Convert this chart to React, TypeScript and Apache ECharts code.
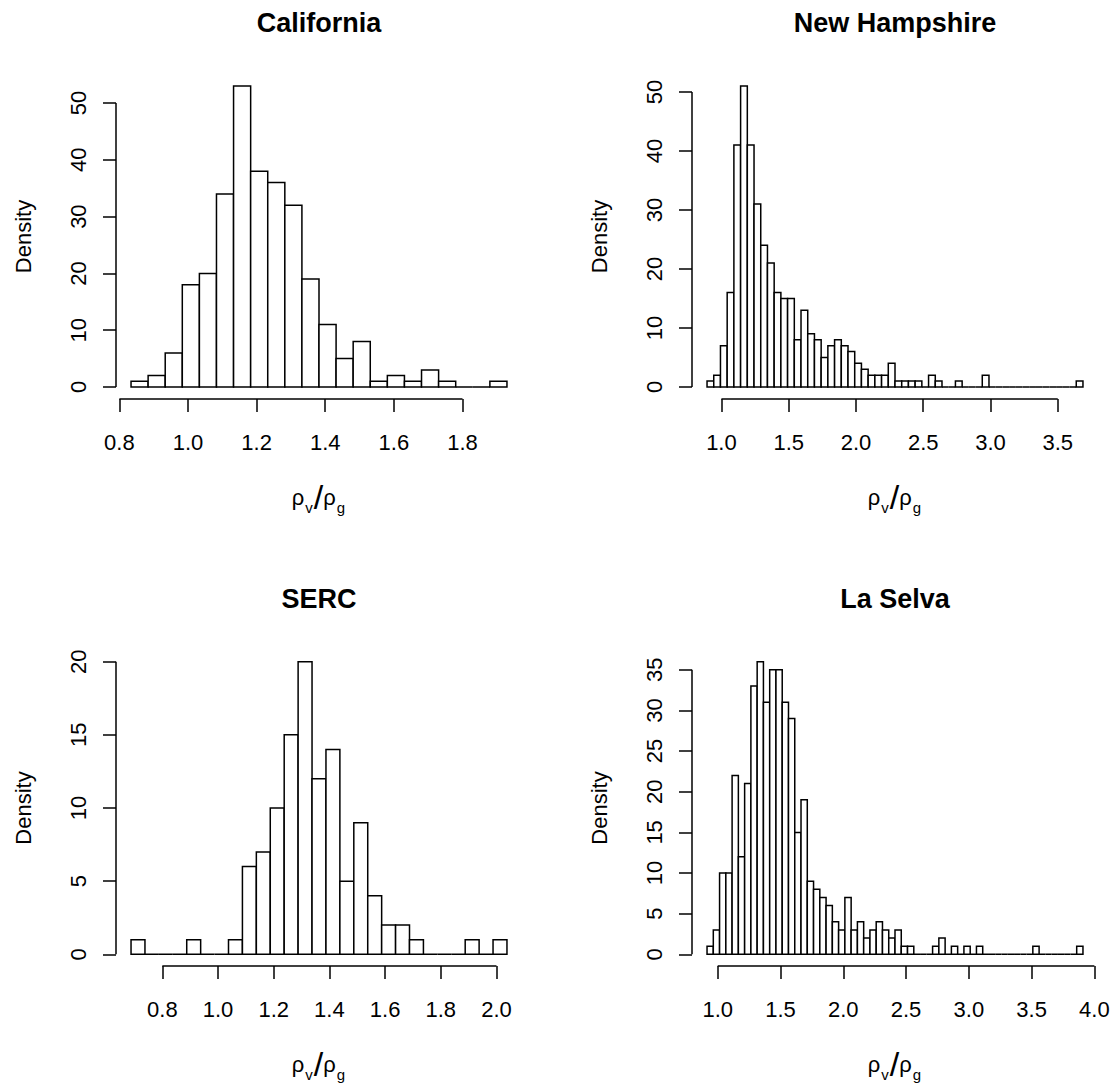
import React, { useEffect, useRef } from "react";
import * as echarts from "echarts";

const FONT = '"Liberation Sans", Arial, Helvetica, sans-serif';

// ---- California ----
const caBreakStart = 0.834;
const caBinWidth = 0.0498;
const caDensity = [1, 2, 6, 18, 20, 34, 53, 38, 36, 32, 19, 11, 5, 8, 1, 2, 1, 3, 1, 0, 0, 1];
const caXTicks = [0.8, 1.0, 1.2, 1.4, 1.6, 1.8];
const caYTicks = [0, 10, 20, 30, 40, 50];

// ---- New Hampshire ----
const nhBreakStart = 0.893;
const nhBinWidth = 0.0499;
const nhDensity = [
  1, 2, 7, 16, 41, 51, 41, 31, 24, 21, 16, 15, 15, 8, 13, 9, 8, 5, 7, 8, 7, 6, 4, 3, 2, 2, 2, 4,
  1, 1, 1, 1, 0, 2, 1, 0, 0, 1, 0, 0, 0, 2, 0, 0, 0, 0, 0, 0, 0, 0, 0, 0, 0, 0, 0, 1,
];
const nhXTicks = [1.0, 1.5, 2.0, 2.5, 3.0, 3.5];
const nhYTicks = [0, 10, 20, 30, 40, 50];

// ---- SERC ----
const seBreakStart = 0.6876;
const seBinWidth = 0.05;
const seDensity = [1, 0, 0, 0, 1, 0, 0, 1, 6, 7, 10, 15, 20, 12, 14, 5, 9, 4, 2, 2, 1, 0, 0, 0, 1, 0, 1];
const seXTicks = [0.8, 1.0, 1.2, 1.4, 1.6, 1.8, 2.0];
const seYTicks = [0, 5, 10, 15, 20];

// ---- La Selva ----
const lsBreakStart = 0.915;
const lsBinWidth = 0.0499;
const lsDensity = [
  1, 3, 10, 10, 22, 12, 21, 33, 36, 31, 35, 35, 31, 29, 15, 19, 9, 8, 7, 6, 4, 3, 7, 3, 4, 2, 3, 4,
  3, 2, 3, 1, 1, 0, 0, 0, 1, 2, 0, 1, 0, 1, 0, 1, 0, 0, 0, 0, 0, 0, 0, 0, 1, 0, 0, 0, 0, 0, 0, 1,
];
const lsXTicks = [1.0, 1.5, 2.0, 2.5, 3.0, 3.5, 4.0];
const lsYTicks = [0, 5, 10, 15, 20, 25, 30, 35];

type Panel = {
  title: string;
  start: number;
  width: number;
  density: number[];
  xTicks: number[];
  yTicks: number[];
};

const panels: Panel[] = [
  { title: "California", start: caBreakStart, width: caBinWidth, density: caDensity, xTicks: caXTicks, yTicks: caYTicks },
  { title: "New Hampshire", start: nhBreakStart, width: nhBinWidth, density: nhDensity, xTicks: nhXTicks, yTicks: nhYTicks },
  { title: "SERC", start: seBreakStart, width: seBinWidth, density: seDensity, xTicks: seXTicks, yTicks: seYTicks },
  { title: "La Selva", start: lsBreakStart, width: lsBinWidth, density: lsDensity, xTicks: lsXTicks, yTicks: lsYTicks },
];

const GRID_LEFT = [116, 692];
const GRID_TOP = [74, 650];
const GRID_W = 406;
const GRID_H = 325;
const LINE = "#000";
const LW = 1.5;

function buildOption() {
  const grid: any[] = [];
  const xAxis: any[] = [];
  const yAxis: any[] = [];
  const series: any[] = [];
  const graphic: any[] = [];

  panels.forEach((p, i) => {
    const col = i % 2;
    const row = Math.floor(i / 2);
    const left = GRID_LEFT[col];
    const top = GRID_TOP[row];
    const n = p.density.length;
    const x0 = p.start;
    const x1 = p.start + n * p.width;
    const xPad = (x1 - x0) * 0.04;
    const yTop = Math.max(...p.density);
    const yPad = yTop * 0.04;
    const xMin = x0 - xPad;
    const xMax = x1 + xPad;
    const yMin = -yPad;
    const yMax = yTop + yPad;

    grid.push({ left, top, width: GRID_W, height: GRID_H, containLabel: false });

    xAxis.push({
      type: "value",
      gridIndex: i,
      position: "bottom",
      min: xMin,
      max: xMax,
      axisLine: { show: false, onZero: false },
      splitLine: { show: false },
      axisTick: { show: true, inside: false, customValues: p.xTicks, length: 13, lineStyle: { color: LINE, width: LW } },
      axisLabel: {
        customValues: p.xTicks,
        formatter: (v: number) => v.toFixed(1),
        margin: 32,
        fontSize: 22,
        color: "#000",
        fontFamily: FONT,
      },
      name: "{r|ρ}{s|v}{sl|/}{r|ρ}{s|g}",
      nameLocation: "middle",
      nameGap: 80,
      nameTextStyle: {
        color: "#000",
        fontFamily: FONT,
        rich: {
          r: { fontSize: 22, lineHeight: 36, fontFamily: FONT, color: "#000" },
          s: { fontSize: 15, lineHeight: 20, verticalAlign: "bottom", fontFamily: FONT, color: "#000", padding: [0, 1, 0, 1] },
          sl: { fontSize: 34, lineHeight: 36, fontFamily: FONT, color: "#000" },
        },
      },
    });

    yAxis.push({
      type: "value",
      gridIndex: i,
      position: "left",
      min: yMin,
      max: yMax,
      axisLine: { show: false, onZero: false },
      splitLine: { show: false },
      axisTick: { show: true, inside: false, customValues: p.yTicks, length: 13, lineStyle: { color: LINE, width: LW } },
      axisLabel: {
        customValues: p.yTicks,
        rotate: 90,
        margin: 27,
        fontSize: 22,
        color: "#000",
        fontFamily: FONT,
      },
      name: "Density",
      nameLocation: "middle",
      nameRotate: 90,
      nameGap: 82,
      nameTextStyle: { fontSize: 22, color: "#000", fontFamily: FONT },
    });

    // histogram bars
    series.push({
      type: "custom",
      xAxisIndex: i,
      yAxisIndex: i,
      clip: false,
      silent: true,
      encode: { x: [0, 1], y: 2 },
      data: p.density.map((d, k) => [p.start + k * p.width, p.start + (k + 1) * p.width, d]),
      renderItem: (_params: any, api: any) => {
        const a = api.coord([api.value(0), 0]);
        const b = api.coord([api.value(1), api.value(2)]);
        return {
          type: "polygon",
          shape: { points: [[a[0], a[1]], [a[0], b[1]], [b[0], b[1]], [b[0], a[1]]] },
          style: { fill: "#fff", stroke: LINE, lineWidth: LW },
        };
      },
    });

    // R-style axis lines spanning first to last tick
    series.push({
      type: "custom",
      xAxisIndex: i,
      yAxisIndex: i,
      clip: false,
      silent: true,
      encode: { x: [0, 2], y: [1, 3] },
      data: [
        [p.xTicks[0], yMin, p.xTicks[p.xTicks.length - 1], yMin],
        [xMin, p.yTicks[0], xMin, p.yTicks[p.yTicks.length - 1]],
      ],
      renderItem: (_params: any, api: any) => {
        const a = api.coord([api.value(0), api.value(1)]);
        const b = api.coord([api.value(2), api.value(3)]);
        return {
          type: "line",
          shape: { x1: a[0], y1: a[1], x2: b[0], y2: b[1] },
          style: { stroke: LINE, lineWidth: LW },
        };
      },
    });

    graphic.push({
      type: "text",
      x: left + GRID_W / 2,
      y: top - 51,
      silent: true,
      style: {
        text: p.title,
        font: `bold 27px ${FONT}`,
        fill: "#000",
        align: "center",
        verticalAlign: "middle",
        textAlign: "center",
        textVerticalAlign: "middle",
      },
    });
  });

  return {
    animation: false,
    backgroundColor: "#fff",
    grid,
    xAxis,
    yAxis,
    series,
    graphic,
  };
}

export default function App() {
  const ref = useRef<HTMLDivElement>(null);
  useEffect(() => {
    if (!ref.current) return;
    const chart = echarts.init(ref.current, null, { renderer: "svg" });
    chart.setOption(buildOption() as any);
    return () => chart.dispose();
  }, []);
  return (
    <div
      ref={ref}
      style={{ position: "absolute", left: 0, top: 0, width: 1114, height: 1083, background: "#fff" }}
    />
  );
}
